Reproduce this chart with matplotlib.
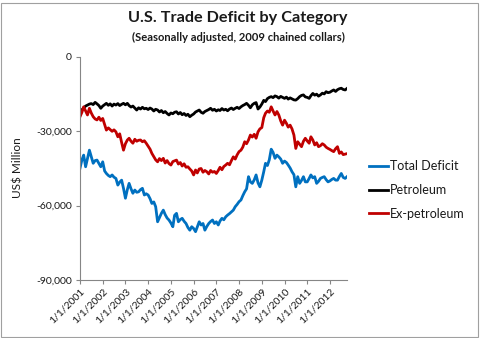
import matplotlib
matplotlib.use("Agg")
import matplotlib.pyplot as plt
from matplotlib.ticker import FuncFormatter
from matplotlib.patches import Rectangle
import pandas as pd

plt.rcParams['font.family'] = ['Lato', 'DejaVu Sans']

start_month = "2001-01-01"
n_months = 142

total_deficit = [
    -44900, -41500, -39600, -44300, -41000, -37600, -40200, -42900, -41800, -41600, -43000, -44300,
    -42300, -46000, -47000, -47800, -48300, -47600, -48500, -49000, -51700, -50500, -49700, -53000,
    -57000, -53500, -51000, -53200, -55000, -53700, -54600, -54400, -53500, -53000, -55700, -55200,
    -55700, -57200, -59100, -58500, -60400, -66500, -64800, -63100, -61800, -63600, -65000, -65800,
    -67000, -68500, -63900, -63100, -66500, -65600, -65100, -66300, -67200, -68800, -69900, -68500,
    -69200, -70500, -68600, -66500, -67800, -67200, -69900, -68400, -67200, -66400, -65800, -67200,
    -66500, -67800, -66200, -65100, -65700, -64500, -63800, -63200, -62500, -61800, -60400, -59500,
    -58400, -57700, -56000, -54400, -53200, -48300, -50400, -51000, -49600, -47600, -50800, -52400,
    -49700, -46300, -42900, -43800, -41500, -37200, -38500, -40900, -39600, -40300, -41200, -42900,
    -42000, -42600, -43600, -44800, -46300, -47500, -52400, -48300, -51000, -49800, -48300, -50400,
    -50400, -49000, -47600, -48800, -48300, -51000, -50200, -49000, -48600, -48300, -49500, -50400,
    -50000, -49400, -49000, -49700, -49700, -48200, -47000, -48600, -49000, -48300,
]

petroleum = [
    -21800, -21300, -20600, -19800, -19400, -19000, -18800, -19200, -18300, -18900, -19600, -20700,
    -19800, -19200, -18700, -19500, -18900, -19800, -19000, -19400, -18800, -19600, -19100, -18700,
    -19300, -18700, -19600, -20200, -19800, -20600, -21400, -20500, -21000, -20300, -20900, -20700,
    -21200, -20600, -21000, -21800, -21100, -21400, -22200, -21600, -22500, -22000, -22800, -23400,
    -22600, -22900, -22300, -22100, -23000, -22400, -23300, -22800, -23600, -23100, -24100, -23500,
    -23000, -22200, -21800, -21400, -22300, -22700, -22000, -21600, -21200, -20700, -21500, -21100,
    -21800, -21300, -21600, -20800, -21400, -21100, -21700, -21000, -20600, -21200, -20700, -20300,
    -20800, -20100, -19600, -19200, -18700, -19500, -20500, -19300, -18700, -18400, -21000, -20200,
    -19000, -17500, -18000, -16800, -16300, -16000, -16400, -15700, -16000, -16600, -15900, -16300,
    -16700, -16200, -17000, -16500, -16900, -17300, -17400, -16800, -16000, -15500, -15300, -16100,
    -16300, -16700, -15600, -14700, -15400, -15000, -15800, -15300, -14600, -14900, -14000, -14400,
    -14200, -13700, -13300, -13900, -13200, -12800, -12600, -13100, -13300, -12700,
]

ex_petroleum = [
    -24100, -22300, -20100, -21800, -23400, -20700, -22600, -24100, -25000, -25400, -24300, -25600,
    -24800, -27200, -29500, -28600, -29300, -30000, -29400, -30200, -32200, -31000, -34500, -37600,
    -35000, -33500, -32800, -34000, -34800, -33200, -34000, -33600, -33500, -34200, -33800, -34800,
    -36000, -37200, -38900, -40200, -41500, -42300, -41000, -41800, -40900, -42800, -41800, -43000,
    -43600, -42200, -41900, -41600, -43200, -42600, -44000, -43100, -44500, -44300, -45200, -46000,
    -47600, -45600, -46800, -45200, -45000, -46500, -45800, -46300, -47200, -45800, -46500, -46200,
    -47000, -45800, -44500, -45500, -44200, -43600, -42900, -43500, -41800, -40300, -41200, -39500,
    -38200, -37600, -36400, -34200, -35000, -33500, -31500, -32300, -31200, -32800, -30200, -29000,
    -28500, -24500, -22700, -21800, -22300, -20100, -21800, -23400, -22000, -23400, -25800, -27500,
    -25500, -26800, -28300, -27500, -29000, -31500, -36900, -34200, -35200, -36200, -34000, -32800,
    -33900, -34800, -32200, -33500, -35500, -34600, -36200, -35800, -35000, -35500, -36400, -36900,
    -37300, -37800, -38200, -37000, -36200, -38900, -38300, -39400, -39200, -39000,
]

series_names = ["Total Deficit", "Petroleum", "Ex-petroleum"]
series_colors = ["#0070C0", "#000000", "#C00000"]
y_ticks = [0, -30000, -60000, -90000]
tick_years = list(range(2001, 2013))

dates = pd.date_range(start_month, periods=n_months, freq="MS")

fig = plt.figure(figsize=(4.8, 3.38), dpi=100)
ax = fig.add_axes([80/480, 1-280/338, 267/480, 223/338])

for vals, name, col in zip([total_deficit, petroleum, ex_petroleum], series_names, series_colors):
    ax.plot(dates, vals, color=col, lw=2.0, label=name, solid_joinstyle='round')

ax.set_xlim(dates[0], dates[-1])
ax.set_ylim(-90000, 0)
ax.set_yticks(y_ticks)
ax.yaxis.set_major_formatter(FuncFormatter(lambda v, p: f"{int(v):,}"))
ax.set_xticks([pd.Timestamp(f"{y}-01-01") for y in tick_years])
ax.set_xticklabels([f"1/1/{y}" for y in tick_years], rotation=45, ha='right',
                   rotation_mode='anchor')

for s in ['top', 'right']:
    ax.spines[s].set_visible(False)
for s in ['left', 'bottom']:
    ax.spines[s].set_color('#868686')
    ax.spines[s].set_linewidth(0.8)
ax.tick_params(axis='both', colors='#868686', length=3, width=0.8, labelsize=7.5,
               labelcolor='#1a1a1a')
ax.tick_params(axis='y', pad=3)
ax.tick_params(axis='x', pad=2)

fig.text(18/480, 1-168/338, "US$ Million", rotation=90, ha='center', va='center',
         fontsize=8.5, color='#1a1a1a')

fig.text(238/480, 1-18/338, "U.S. Trade Deficit by Category", ha='center', va='center',
         fontsize=11.7, fontweight='bold', color='#1a1a1a')
fig.text(238/480, 1-37/338, "(Seasonally adjusted, 2009 chained collars)", ha='center',
         va='center', fontsize=8, fontweight='bold', color='#1a1a1a')

leg = ax.legend(loc='upper left', bbox_to_anchor=(369/480, 1-160/338),
                bbox_transform=fig.transFigure, frameon=False, fontsize=9,
                handlelength=1.55, handletextpad=0.15, labelspacing=0.95,
                borderpad=0, borderaxespad=0)
for t in leg.get_texts():
    t.set_color('#1a1a1a')

fig.patches.append(Rectangle((0.5/480, 1.5/338), 477/480, 334/338, transform=fig.transFigure,
                             fill=False, edgecolor='#a0a0a0', lw=0.8))

fig.savefig("out.png", dpi=100)
